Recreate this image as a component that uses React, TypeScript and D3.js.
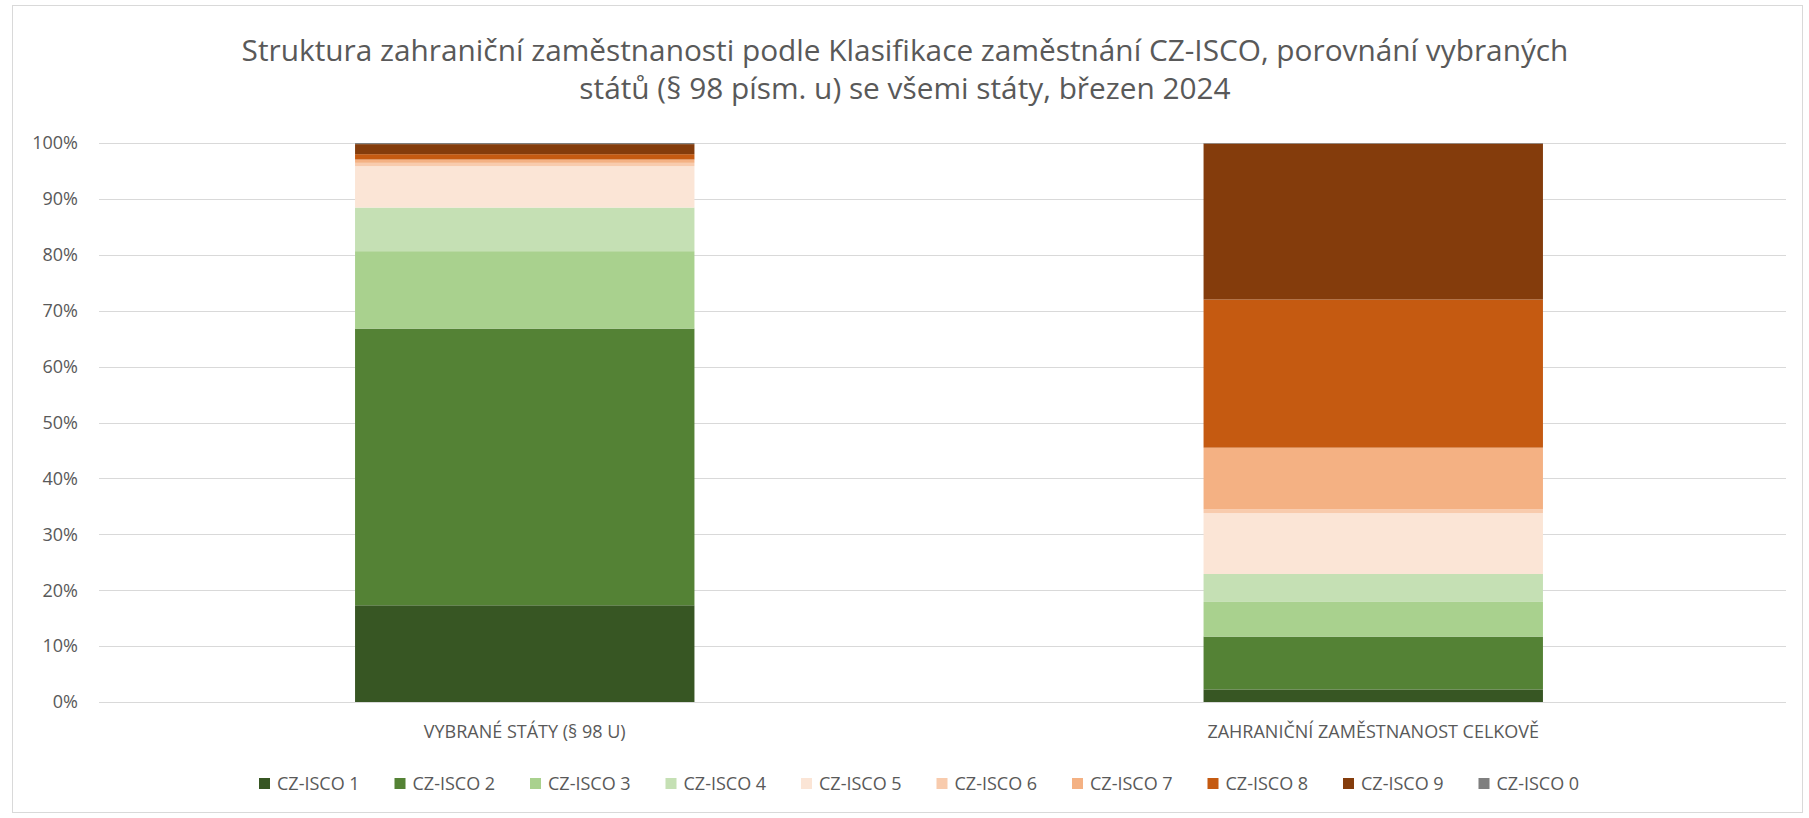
import * as React from 'react';
import * as d3 from 'd3';

const categories = ['VYBRANÉ STÁTY (§ 98 U)', 'ZAHRANIČNÍ ZAMĚSTNANOST CELKOVĚ'];
const seriesNames = ['CZ-ISCO 1', 'CZ-ISCO 2', 'CZ-ISCO 3', 'CZ-ISCO 4', 'CZ-ISCO 5', 'CZ-ISCO 6', 'CZ-ISCO 7', 'CZ-ISCO 8', 'CZ-ISCO 9', 'CZ-ISCO 0'];
// shares in %, one value per category
const vybrane = [17.3, 49.5, 13.85, 7.8, 7.4, 0.6, 0.6, 0.95, 1.8, 0.2];
const celkove = [2.25, 9.45, 6.2, 5.0, 10.9, 0.7, 11.0, 26.5, 27.9, 0.1];
const colors = ['#375623', '#548235', '#a9d18e', '#c5e0b4', '#fbe5d6', '#f8cbad', '#f4b183', '#c55a11', '#843c0c', '#7f7f7f'];
const yTicks = [0, 10, 20, 30, 40, 50, 60, 70, 80, 90, 100];
const titleLines = [
  'Struktura zahraniční zaměstnanosti podle Klasifikace zaměstnání CZ-ISCO, porovnání vybraných',
  'států (§ 98 písm. u) se všemi státy, březen 2024',
];

const W = 1809;
const H = 818;
const font = '"Open Sans", sans-serif';
const grey = '#595959';

const App: React.FC = () => {
  const rows = categories.map((c, i) => {
    const vals = i === 0 ? vybrane : celkove;
    const r: Record<string, any> = { cat: c };
    seriesNames.forEach((s, j) => { r[s] = vals[j]; });
    return r;
  });

  const stack = d3.stack<Record<string, any>>().keys(seriesNames);
  const layers = stack(rows);

  const x = d3.scaleBand<string>().domain(categories).range([100.5, 1797.5]).paddingInner(0.6).paddingOuter(0.3);
  const y = d3.scaleLinear().domain([0, 100]).range([702, 143]);

  const legendX = (i: number) => 259 + i * 135.5;

  return (
    <svg width={W} height={H} style={{ position: 'absolute', left: 0, top: 0, background: '#fff' }}>
      <rect x={12.5} y={5.5} width={1790} height={807} fill="#fff" stroke="#d9d9d9" />
      {titleLines.map((t, i) => (
        <text key={i} x={905} y={61 + i * 38} textAnchor="middle" fontFamily={font} fontSize={29.8} fill={grey}>
          {t}
        </text>
      ))}
      {yTicks.map((t) => (
        <g key={t}>
          <line x1={99} x2={1786} y1={Math.round(y(t)) + 0.5} y2={Math.round(y(t)) + 0.5} stroke="#d9d9d9" strokeWidth={1} />
          <text x={78} y={y(t)} dy="0.35em" textAnchor="end" fontFamily={font} fontSize={18} fill={grey}>
            {t}%
          </text>
        </g>
      ))}
      {layers.map((layer, li) => (
        <g key={layer.key} fill={colors[li]}>
          {layer.map((d, di) => (
            <rect
              key={di}
              x={x(d.data.cat as string)}
              width={x.bandwidth()}
              y={y(d[1])}
              height={Math.max(0, y(d[0]) - y(d[1]))}
            />
          ))}
        </g>
      ))}
      {categories.map((c) => (
        <text key={c} x={(x(c) as number) + x.bandwidth() / 2} y={738} textAnchor="middle" fontFamily={font} fontSize={18} fill={grey}>
          {c}
        </text>
      ))}
      {seriesNames.map((s, i) => (
        <g key={s}>
          <rect x={legendX(i)} y={778} width={11} height={11} fill={colors[i]} />
          <text x={legendX(i) + 18} y={784} dy="0.35em" fontFamily={font} fontSize={18} fill={grey}>
            {s}
          </text>
        </g>
      ))}
    </svg>
  );
};

export default App;
